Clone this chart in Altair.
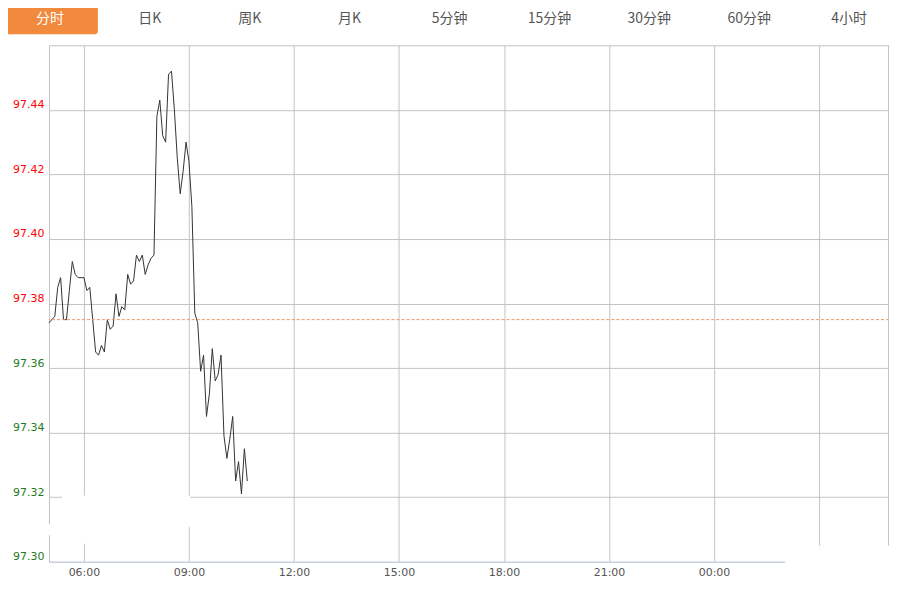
import altair as alt
import pandas as pd

# ---------------- data ----------------
tabs = ["分时", "日K", "周K", "月K", "5分钟", "15分钟", "30分钟", "60分钟", "4小时"]
active_tab = "分时"

# one price every 5 minutes, starting 05:00
prices = [
    97.374, 97.375, 97.376, 97.385, 97.388, 97.375, 97.375, 97.384, 97.393, 97.389,
    97.388, 97.388, 97.388, 97.384, 97.385, 97.375, 97.365, 97.364, 97.367, 97.365,
    97.375, 97.372, 97.373, 97.383, 97.376, 97.379, 97.378, 97.389, 97.386, 97.387,
    97.395, 97.393, 97.395, 97.389, 97.392, 97.394, 97.395, 97.438, 97.443, 97.432,
    97.430, 97.451, 97.452, 97.440, 97.425, 97.414, 97.421, 97.430, 97.424, 97.410,
    97.377, 97.374, 97.359, 97.364, 97.345, 97.352, 97.366, 97.356, 97.358, 97.364,
    97.339, 97.332, 97.338, 97.345, 97.325, 97.331, 97.321, 97.335, 97.325,
]
prev_close = 97.375
y_ticks = [97.30, 97.32, 97.34, 97.36, 97.38, 97.40, 97.42, 97.44, 97.46]
x_ticks = ["06:00", "09:00", "12:00", "15:00", "18:00", "21:00", "00:00", "03:00"]
session_start = "05:00"
step_minutes = 5

# ---------------- helpers ----------------
def to_min(t):
    h, m = t.split(":")
    s_h, s_m = session_start.split(":")
    v = (int(h) * 60 + int(m)) - (int(s_h) * 60 + int(s_m))
    return v % 1440

times = [i * step_minutes for i in range(len(prices))]
df = pd.DataFrame({"m": times, "price": prices})
x_tick_vals = [to_min(t) for t in x_ticks]

W, H = 841, 517
GRID = "#c3c3c3"
FONT = "DejaVu Sans"

x_enc = alt.X(
    "m:Q",
    scale=alt.Scale(domain=[0, 1440], nice=False, zero=False),
    axis=alt.Axis(
        values=x_tick_vals,
        labelExpr="datum.value >= 1260 ? '' : timeFormat(datetime(2000, 0, 1, 5, datum.value), '%H:%M')",
        grid=True, gridColor=GRID, gridWidth=1,
        ticks=False, domainColor="#c6d3df", domainWidth=1,
        labelColor="#555555", labelFont=FONT, labelFontSize=11,
        labelPadding=5, labelFlush=False, labelOverlap=False,
        title=None, zindex=0,
    ),
)
y_enc = alt.Y(
    "price:Q",
    scale=alt.Scale(domain=[97.30, 97.46], nice=False, zero=False),
    axis=alt.Axis(
        values=y_ticks, format=".2f",
        labelExpr="datum.value > 97.455 ? '' : datum.label",
        labelColor={"expr": f"datum.value > {prev_close} ? '#ff0000' : '#1f7a1f'"},
        grid=True, gridColor=GRID, gridWidth=1,
        ticks=False, domainColor=GRID, domainWidth=1,
        labelFont=FONT, labelFontSize=11, labelPadding=5,
        labelBaseline="bottom", labelOverlap=False,
        title=None, zindex=0,
    ),
)

line = alt.Chart(df).mark_line(color="#333333", strokeWidth=1, interpolate="linear").encode(x=x_enc, y=y_enc)

ref = alt.Chart(pd.DataFrame({"price": [prev_close]})).mark_rule(
    color="#ee9566", strokeWidth=1, strokeDash=[3, 2]
).encode(y="price:Q")

dummy = alt.Data(values=[{}])

# right frame edge of the plot
right_edge = alt.Chart(dummy).mark_rule(color=GRID, strokeWidth=1).encode(
    x=alt.value(W - 0.5), y=alt.value(0), y2=alt.value(H)
)

def mask(x1, x2, y1, y2):
    return alt.Chart(dummy).mark_rect(color="white").encode(
        x=alt.value(x1), x2=alt.value(x2), y=alt.value(y1), y2=alt.value(y2)
    )

masks = [
    mask(13, 141.6, 451, 482.5),
    mask(30, 40, 451, 499),
    mask(-6, 7, 479.5, 490.5),
    mask(737, 860, 501, 560),
]

# tab bar
tab_df = pd.DataFrame({"tab": tabs, "idx": list(range(len(tabs)))})
tab_df["px"] = 1 + 100 * tab_df["idx"]
tab_df["active"] = tab_df["tab"] == active_tab

button = alt.Chart(dummy).mark_rect(color="#f28a3d", cornerRadius=3).encode(
    x=alt.value(-46), x2=alt.value(49), y=alt.value(-43), y2=alt.value(-11)
)
tab_text = alt.Chart(tab_df).mark_text(
    font="Noto Sans CJK SC", fontSize=14, baseline="middle", align="center"
).encode(
    x=alt.X("px:Q", scale=None, axis=None),
    y=alt.value(-26),
    text="tab:N",
    color=alt.condition("datum.active", alt.value("#ffffff"), alt.value("#555555")),
)

chart = alt.layer(line, ref, right_edge, *masks, button, tab_text).resolve_scale(x="independent").properties(
    width=W, height=H,
    padding={"left": 41, "top": 37, "right": 0, "bottom": 18},
    autosize=alt.AutoSizeParams(type="none"),
).configure_view(stroke=None)

chart.save("out.html", embed_options={"renderer": "svg", "actions": False})
